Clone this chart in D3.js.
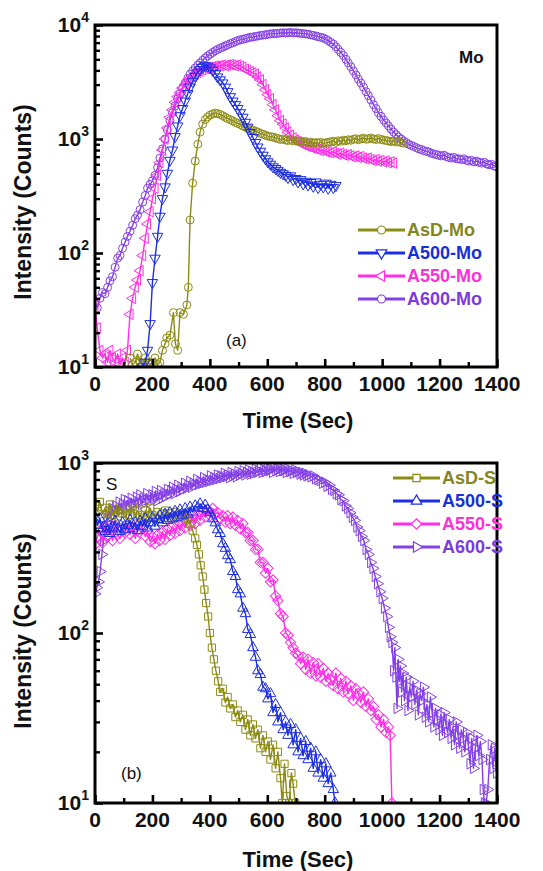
<!DOCTYPE html>
<html><head><meta charset="utf-8">
<script src="https://cdn.jsdelivr.net/npm/d3@7"></script>
<style>
body{margin:0;background:#fff}
svg{display:block}
text{font-family:"Liberation Sans",Arial,Helvetica,sans-serif}
</style>
</head><body>
<svg id="c" width="543" height="871"></svg>
<script>
// ---------- shared axis data ----------
const xTicksMajor = [0,200,400,600,800,1000,1200,1400];
const xTicksMinor = [100,300,500,700,900,1100,1300];
const yExpA = [1,2,3,4];
const yExpB = [1,2,3];
const xLabel = "Time (Sec)";
const yLabel = "Intensity (Counts)";

// ---------- panel (a): Mo ----------
const moNames = ["AsD-Mo","A500-Mo","A550-Mo","A600-Mo"];
const moAsD = [[122,12],[131,10.5],[140,11],[148,13],[157,11],[166,10.5],[175,12],[183,11],[192,10.5],[200,11],[209,12],[218,10.5],[226,11],[235,14],[244,16],[250,18],[261,19],[273,30],[280,16],[288,14],[296,30],[308,29],[320,35],[325,50],[331,195],[340,410],[349,640],[358,900],[366,1150],[375,1350],[384,1480],[392,1560],[401,1620],[410,1660],[419,1690],[427,1670],[436,1640],[445,1600],[454,1550],[462,1510],[471,1480],[480,1440],[489,1400],[497,1370],[506,1340],[515,1300],[524,1270],[532,1240],[541,1210],[550,1190],[559,1170],[567,1150],[576,1120],[585,1100],[594,1080],[602,1060],[611,1050],[620,1040],[629,1020],[637,1010],[646,990],[655,1000],[664,980],[672,970],[681,990],[690,960],[699,970],[707,950],[716,960],[725,940],[734,950],[742,930],[751,940],[760,920],[769,930],[777,920],[786,935],[795,915],[804,925],[812,935],[821,945],[830,955],[839,935],[847,965],[856,955],[865,975],[874,965],[882,985],[891,975],[900,995],[909,1005],[917,985],[926,1005],[935,1015],[944,995],[952,1005],[961,1020],[970,1000],[979,990],[987,1010],[996,990],[1005,980],[1014,970],[1022,960],[1031,950],[1040,960],[1049,940],[1057,950],[1066,930],[1075,920]];
const moA500 = [[165,10],[175,11],[183,14],[192,24],[200,55],[209,90],[218,140],[226,210],[235,300],[244,380],[252,500],[261,650],[270,800],[279,1050],[288,1300],[296,1600],[305,1850],[314,2150],[323,2500],[331,2850],[340,3200],[349,3550],[358,3850],[366,4050],[375,4250],[384,4400],[392,4350],[401,4200],[410,4000],[419,3750],[427,3500],[436,3300],[445,3100],[454,2850],[462,2600],[471,2350],[480,2150],[489,2000],[497,1850],[506,1700],[515,1550],[524,1400],[532,1270],[541,1140],[550,1030],[559,930],[567,850],[576,780],[585,720],[594,670],[602,630],[611,600],[620,570],[629,550],[637,530],[646,510],[655,495],[664,480],[672,460],[681,475],[690,440],[699,450],[707,420],[716,440],[725,405],[734,425],[742,395],[751,415],[760,385],[769,420],[777,375],[786,400],[795,380],[804,410],[812,370],[821,400],[830,375],[839,390]];
const moA550 = [[0,35],[8,22],[17,14],[26,12],[35,13],[44,11],[52,14],[61,12],[70,11],[79,13],[87,10.5],[96,12],[105,11],[113,14],[122,29],[131,40],[140,50],[148,58],[157,70],[166,95],[175,135],[183,180],[192,230],[200,300],[209,370],[218,480],[226,620],[235,800],[244,1000],[252,1250],[261,1550],[270,1800],[279,2100],[288,2350],[296,2550],[305,2800],[314,3000],[323,3200],[331,3400],[340,3550],[349,3700],[358,3850],[366,3950],[375,4050],[384,4150],[392,4200],[401,4250],[410,4300],[419,4350],[427,4350],[436,4400],[445,4450],[454,4400],[462,4450],[471,4500],[480,4450],[489,4400],[497,4450],[506,4350],[515,4250],[524,4100],[532,4000],[541,3900],[550,3800],[559,3700],[567,3500],[576,3300],[585,3000],[594,2700],[602,2450],[611,2250],[620,2000],[629,1800],[637,1600],[646,1450],[655,1350],[664,1250],[672,1150],[681,1080],[690,1020],[699,980],[707,950],[716,920],[725,900],[734,880],[742,860],[751,850],[760,830],[769,820],[777,810],[786,790],[795,800],[804,780],[812,770],[821,760],[830,770],[839,750],[847,740],[856,750],[865,730],[874,720],[882,730],[891,710],[900,700],[909,710],[917,690],[926,700],[935,680],[944,670],[952,680],[961,660],[970,650],[979,660],[987,640],[996,650],[1005,630],[1014,640],[1022,620],[1031,630],[1040,615]];
const moA600 = [[0,36],[8,33],[17,40],[26,45],[35,44],[44,50],[52,57],[61,62],[70,75],[79,90],[87,95],[96,110],[105,125],[113,140],[122,155],[131,175],[140,200],[148,215],[157,240],[166,280],[175,320],[183,370],[192,400],[200,430],[209,480],[218,560],[226,680],[235,820],[244,1000],[252,1200],[261,1450],[270,1700],[279,1950],[288,2250],[296,2500],[305,2800],[314,3100],[323,3400],[331,3700],[340,3950],[349,4200],[358,4450],[366,4650],[375,4900],[384,5150],[392,5350],[401,5550],[410,5750],[419,5950],[427,6100],[436,6250],[445,6400],[454,6550],[462,6700],[471,6850],[480,7000],[489,7150],[497,7300],[506,7400],[515,7500],[524,7600],[532,7700],[541,7800],[550,7850],[559,7950],[567,8000],[576,8100],[585,8150],[594,8200],[602,8300],[611,8350],[620,8400],[629,8400],[637,8450],[646,8500],[655,8550],[664,8500],[672,8550],[681,8600],[690,8500],[699,8550],[707,8500],[716,8450],[725,8400],[734,8350],[742,8300],[751,8200],[760,8100],[769,8000],[777,7900],[786,7800],[795,7700],[804,7500],[812,7300],[821,7050],[830,6800],[839,6450],[847,6100],[856,5750],[865,5400],[874,5000],[882,4650],[891,4300],[900,3950],[909,3650],[917,3350],[926,3100],[935,2850],[944,2600],[952,2400],[961,2200],[970,2000],[979,1850],[987,1700],[996,1580],[1005,1470],[1014,1380],[1022,1300],[1031,1220],[1040,1150],[1049,1090],[1057,1040],[1066,1000],[1075,960],[1084,930],[1092,900],[1101,880],[1110,860],[1119,840],[1127,820],[1136,810],[1145,790],[1154,780],[1162,770],[1171,750],[1180,740],[1189,730],[1197,720],[1206,710],[1215,720],[1224,700],[1232,690],[1241,680],[1250,690],[1259,670],[1267,670],[1276,660],[1285,670],[1294,650],[1302,640],[1311,650],[1320,630],[1329,640],[1337,625],[1346,615],[1355,625],[1364,605],[1372,595],[1381,600],[1390,580],[1398,570]];

// ---------- panel (b): S ----------
const sNames = ["AsD-S","A500-S","A550-S","A600-S"];
const sAsD = [[0,560],[9,520],[17,590],[26,500],[35,545],[44,505],[52,570],[61,495],[70,535],[79,485],[87,550],[96,505],[105,475],[113,535],[122,495],[131,550],[140,485],[148,525],[157,495],[166,465],[175,525],[183,485],[192,545],[200,495],[209,475],[218,515],[226,465],[235,505],[244,525],[252,475],[261,505],[270,465],[279,515],[288,475],[296,505],[305,495],[314,490],[323,470],[331,440],[340,400],[349,360],[355,330],[362,290],[368,250],[375,215],[381,180],[387,150],[394,125],[400,100],[407,82],[414,70],[421,60],[429,52],[436,45],[445,47],[454,39],[462,42],[471,36],[480,38],[489,32],[497,35],[506,30],[515,33],[524,27],[532,31],[541,25],[550,29],[559,24],[567,27],[576,21],[585,25],[594,20],[602,23],[611,18],[620,22],[629,16],[637,20],[646,14],[652,10],[660,17],[668,11],[676,10],[684,15],[690,13],[697,10]];
const sA500 = [[0,480],[9,430],[17,470],[26,410],[35,395],[44,440],[52,385],[61,420],[70,455],[79,410],[87,395],[96,445],[105,405],[113,430],[122,460],[131,410],[140,445],[148,400],[157,455],[166,425],[175,470],[183,415],[192,445],[200,475],[209,425],[218,465],[226,490],[235,445],[244,500],[252,460],[261,510],[270,470],[279,520],[288,480],[296,530],[305,490],[314,540],[323,500],[331,550],[340,515],[349,560],[358,545],[366,575],[375,540],[384,565],[392,530],[401,510],[410,470],[419,445],[427,405],[436,385],[445,335],[454,315],[462,285],[471,270],[480,230],[489,215],[497,180],[506,170],[515,140],[524,130],[532,105],[541,98],[550,82],[559,72],[567,60],[576,57],[585,48],[594,47],[602,41],[611,44],[620,34],[629,38],[637,30],[646,34],[655,27],[664,30],[672,25],[681,29],[690,22],[699,27],[707,20],[716,24],[725,19],[734,23],[742,18],[751,21],[760,16],[769,20],[777,15],[786,18],[795,14],[804,17],[812,13],[821,15],[830,12],[836,10]];
const sA550 = [[0,330],[9,370],[17,400],[26,340],[35,420],[44,370],[52,410],[61,350],[70,430],[79,380],[87,360],[96,410],[105,390],[113,440],[122,380],[131,420],[140,360],[148,400],[157,440],[166,410],[175,370],[183,395],[192,345],[200,370],[209,335],[218,380],[226,350],[235,395],[244,355],[252,410],[261,375],[270,425],[279,385],[288,440],[296,400],[305,455],[314,415],[323,470],[331,430],[340,490],[349,440],[358,500],[366,460],[375,520],[384,480],[392,530],[401,490],[410,540],[419,500],[427,510],[436,470],[445,490],[454,450],[462,490],[471,440],[480,480],[489,430],[497,460],[506,410],[515,440],[524,390],[532,390],[541,350],[550,350],[559,310],[567,310],[576,260],[585,260],[594,225],[602,240],[611,200],[620,205],[629,165],[637,155],[646,130],[655,125],[664,100],[672,97],[681,88],[690,82],[699,76],[707,74],[716,66],[725,72],[734,61],[742,70],[751,58],[760,67],[769,56],[777,66],[786,55],[795,62],[804,52],[812,58],[821,53],[830,49],[839,58],[847,47],[856,54],[865,45],[874,52],[882,44],[891,49],[900,40],[909,47],[917,44],[926,39],[935,45],[944,37],[952,41],[961,35],[970,37],[979,31],[987,33],[996,28],[1005,31],[1014,26],[1022,28],[1028,25],[1034,10]];
const sA600 = [[0,170],[6,185],[12,200],[18,230],[24,290],[30,350],[36,420],[42,470],[48,520],[54,480],[60,540],[66,500],[72,560],[78,520],[84,590],[90,530],[96,570],[102,610],[108,540],[114,600],[120,560],[126,620],[132,580],[138,560],[144,630],[150,590],[156,650],[162,570],[168,620],[174,600],[180,660],[186,610],[192,590],[198,650],[204,620],[210,680],[216,600],[222,640],[228,690],[234,620],[240,660],[246,640],[252,700],[258,650],[264,690],[270,720],[276,660],[282,700],[288,740],[294,680],[300,720],[306,700],[312,760],[318,710],[324,740],[330,780],[336,720],[342,760],[348,740],[354,800],[360,750],[366,780],[372,760],[378,820],[384,770],[390,800],[396,780],[402,840],[408,790],[414,820],[420,800],[426,850],[432,810],[438,840],[444,820],[450,870],[456,830],[462,850],[468,820],[474,880],[480,840],[486,860],[492,830],[498,890],[504,850],[510,870],[516,900],[522,850],[528,880],[534,910],[540,860],[546,890],[552,870],[558,920],[564,880],[570,900],[576,940],[582,880],[588,910],[594,890],[600,930],[606,900],[612,920],[618,880],[624,940],[630,900],[636,920],[642,890],[648,930],[654,900],[660,910],[666,880],[672,920],[678,890],[684,900],[690,870],[696,910],[702,880],[708,890],[714,860],[720,880],[726,850],[732,870],[738,840],[744,850],[752,830],[760,840],[768,810],[776,800],[784,790],[792,760],[800,770],[808,730],[816,740],[824,700],[832,690],[840,660],[848,650],[856,610],[864,600],[872,560],[880,540],[888,510],[896,480],[904,460],[912,420],[920,400],[928,370],[936,350],[944,310],[952,290],[960,260],[968,240],[976,215],[984,195],[992,175],[1000,160],[1008,140],[1016,125],[1022,108],[1028,95],[1034,88],[1040,60],[1044,82],[1048,55],[1052,36],[1056,70],[1060,52],[1064,64],[1068,45],[1072,58],[1078,40],[1084,55],[1090,35],[1096,48],[1102,42],[1108,52],[1114,38],[1120,46],[1126,33],[1132,44],[1138,40],[1144,48],[1150,32],[1156,38],[1162,30],[1168,42],[1174,34],[1180,28],[1186,36],[1192,31],[1198,27],[1204,33],[1210,25],[1216,34],[1222,29],[1228,26],[1234,31],[1240,24],[1246,28],[1252,22],[1258,30],[1264,25],[1270,21],[1276,27],[1282,24],[1288,20],[1294,26],[1300,22],[1306,17],[1312,24],[1318,16],[1324,21],[1330,25],[1336,19],[1342,23],[1348,18],[1352,12],[1356,10],[1362,10],[1368,12],[1374,18],[1380,22],[1386,16],[1392,21],[1398,15]];

// ---------- styling ----------
const colors = ["#8c8c14","#1c2ee6","#ff2ee6","#8440e6"];
const textColors = ["#85851e","#1530d8","#ff30d8","#7a3cdc"];
const moShapes = ["circle","down","left","circle"];
const sShapes = ["square","up","diamond","right"];

const svg = d3.select("#c");
const X0 = 95, X1 = 497;
const x = d3.scaleLinear().domain([0,1400]).range([X0,X1]);

function markerPath(shape){
  if(shape==="circle") return d3.symbol().type(d3.symbolCircle).size(50)();
  if(shape==="square") return d3.symbol().type(d3.symbolSquare).size(52)();
  if(shape==="diamond") return d3.symbol().type(d3.symbolSquare).size(54)();
  return d3.symbol().type(d3.symbolTriangle).size(48)();
}
function markerRot(shape){
  return {down:180,left:-90,right:90,diamond:45}[shape]||0;
}

function panel(opt){
  const {top,bottom,exps,series,names,shapes,id} = opt;
  const y = d3.scaleLog().domain([Math.pow(10,exps[0]),Math.pow(10,exps[exps.length-1])]).range([bottom,top]);
  const g = svg.append("g");
  const clipId = "clip"+id;
  svg.append("clipPath").attr("id",clipId).append("rect")
    .attr("x",X0).attr("y",top).attr("width",X1-X0).attr("height",bottom-top);
  const plot = g.append("g").attr("clip-path",`url(#${clipId})`);
  const line = d3.line().x(d=>x(d[0])).y(d=>y(d[1]));
  const order = [3,2,0,1];
  order.forEach(i=>{
    const s = series[i];
    plot.append("path").attr("d",line(s)).attr("fill","none")
      .attr("stroke",colors[i]).attr("stroke-width",1.4).attr("stroke-linejoin","round");
    const p = markerPath(shapes[i]), r = markerRot(shapes[i]);
    plot.selectAll(null).data(s).enter().append("path")
      .attr("d",p)
      .attr("transform",d=>`translate(${x(d[0])},${y(d[1])}) rotate(${r})`)
      .attr("fill","none").attr("stroke",colors[i]).attr("stroke-width",1);
  });

  // y ticks (inward)
  const minor = [];
  for(let e=exps[0]; e<exps[exps.length-1]; e++) for(let k=2;k<=9;k++) minor.push(k*Math.pow(10,e));
  const yMaj = exps.map(e=>Math.pow(10,e));
  g.append("g").attr("transform",`translate(${X0},0)`)
    .call(d3.axisLeft(y).tickValues(yMaj).tickSize(-8).tickFormat(""))
    .call(a=>a.select(".domain").remove())
    .call(a=>a.selectAll("line").attr("stroke","#000").attr("stroke-width",2.6));
  g.append("g").attr("transform",`translate(${X0},0)`)
    .call(d3.axisLeft(y).tickValues(minor).tickSize(-5).tickFormat(""))
    .call(a=>a.select(".domain").remove())
    .call(a=>a.selectAll("line").attr("stroke","#000").attr("stroke-width",2.4));
  // x ticks (inward)
  g.append("g").attr("transform",`translate(0,${bottom})`)
    .call(d3.axisBottom(x).tickValues(xTicksMajor).tickSize(-8).tickFormat(""))
    .call(a=>a.select(".domain").remove())
    .call(a=>a.selectAll("line").attr("stroke","#000").attr("stroke-width",2.6));
  g.append("g").attr("transform",`translate(0,${bottom})`)
    .call(d3.axisBottom(x).tickValues(xTicksMinor).tickSize(-5).tickFormat(""))
    .call(a=>a.select(".domain").remove())
    .call(a=>a.selectAll("line").attr("stroke","#000").attr("stroke-width",2.4));

  // frame
  g.append("rect").attr("x",X0).attr("y",top).attr("width",X1-X0).attr("height",bottom-top)
    .attr("fill","none").attr("stroke","#000").attr("stroke-width",3);

  // y tick labels
  exps.forEach(e=>{
    const t = g.append("text").attr("x",89).attr("y",y(Math.pow(10,e))+7)
      .attr("text-anchor","end").attr("font-size",21).attr("font-weight","bold").attr("fill","#111");
    t.append("tspan").text("10");
    t.append("tspan").attr("dy",-10).attr("font-size",14).text(String(e));
  });
  // x tick labels
  g.selectAll(null).data(xTicksMajor).enter().append("text")
    .attr("x",d=>x(d)).attr("y",bottom+24).attr("text-anchor","middle")
    .attr("font-size",21).attr("font-weight","bold").attr("fill","#111").text(d=>d);
  // axis titles
  g.append("text").attr("x",(X0+X1)/2+2).attr("y",bottom+opt.xlabY).attr("text-anchor","middle")
    .attr("font-size",22).attr("font-weight","bold").attr("fill","#111").text(xLabel);
  const cy = (top+bottom)/2 + opt.ylabOff;
  g.append("text").attr("transform",`translate(31,${cy}) rotate(-90)`).attr("text-anchor","middle")
    .attr("font-size",23).attr("font-weight","bold").attr("fill","#111").text(yLabel);

  // legend
  const L = opt.legend;
  names.forEach((n,i)=>{
    const yy = L.y + i*L.dy;
    g.append("line").attr("x1",L.x).attr("x2",L.x+47).attr("y1",yy).attr("y2",yy)
      .attr("stroke",colors[i]).attr("stroke-width",3);
    g.append("path").attr("d",markerPath(shapes[i]))
      .attr("transform",`translate(${L.x+23.5},${yy}) rotate(${markerRot(shapes[i])})`)
      .attr("fill","#fff").attr("stroke",colors[i]).attr("stroke-width",1.2);
    g.append("text").attr("x",L.x+49).attr("y",yy+6).attr("font-size",18).attr("font-weight","bold")
      .attr("fill",textColors[i]).text(n);
  });
  // annotations
  opt.notes.forEach(nt=>{
    g.append("text").attr("x",nt.x).attr("y",nt.y).attr("font-size",nt.size).attr("font-weight",nt.w||"normal")
      .attr("fill","#111").text(nt.t);
  });
}

panel({id:"a",top:25,bottom:367,exps:yExpA,series:[moAsD,moA500,moA550,moA600],names:moNames,shapes:moShapes,
  ylabOff:6, xlabY:61, legend:{x:358,y:230,dy:23},
  notes:[{t:"Mo",x:459,y:63,size:17,w:"bold"},{t:"(a)",x:226,y:346,size:17}]});
panel({id:"b",top:463,bottom:803,exps:yExpB,series:[sAsD,sA500,sA550,sA600],names:sNames,shapes:sShapes,
  ylabOff:-2, xlabY:64, legend:{x:393,y:478,dy:23},
  notes:[{t:"S",x:106,y:490,size:17},{t:"(b)",x:121,y:779,size:17}]});
</script>
</body></html>
